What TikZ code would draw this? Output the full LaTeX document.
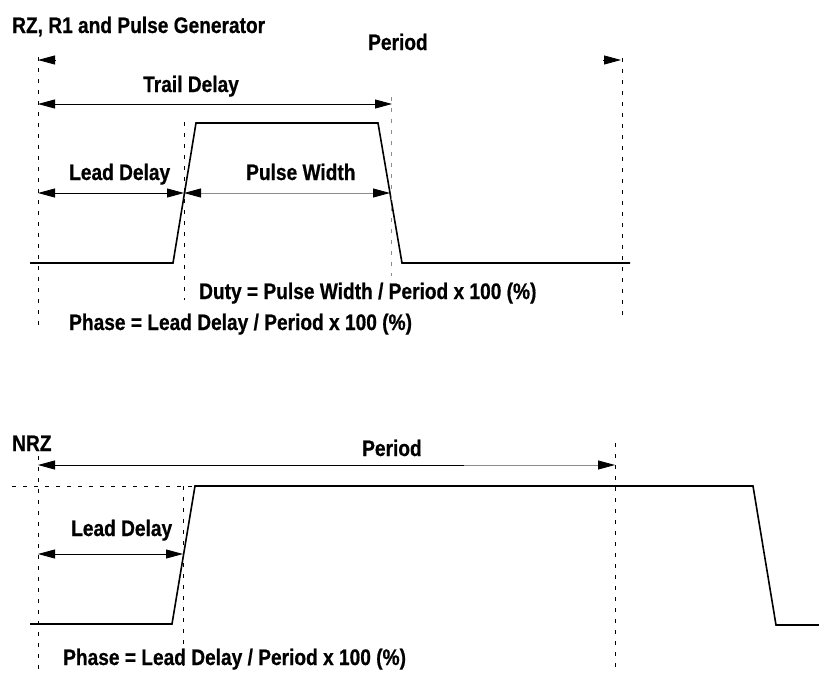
\documentclass[tikz,border=0pt]{standalone}
\usepackage{fontspec}
\setmainfont{Liberation Sans}[FakeStretch=0.85, BoldFeatures={FakeBold=0.6}]
\usetikzlibrary{arrows.meta}
\definecolor{lgray}{RGB}{140,140,140}
\begin{document}
\begin{tikzpicture}[x=1pt,y=-1pt,
  sig/.style={line width=1.6pt, line join=miter},
  dsh/.style={line width=0.9pt, dash pattern=on 4pt off 7pt},
  lbl/.style={anchor=base west, inner sep=0pt, font=\fontsize{22.5}{26}\selectfont\bfseries},
  dim/.style={line width=0.8pt, {Triangle[length=17pt,width=9pt,color=black]}-{Triangle[length=17pt,width=9pt,color=black]}},
  ltip/.style={line width=0.8pt, {Triangle[length=17pt,width=9pt,color=black]}-},
  rtip/.style={line width=0.8pt, -{Triangle[length=17pt,width=9pt,color=black]}}
]
\useasboundingbox (0,0) rectangle (819,675);
\fill[white] (0,0) rectangle (819,675);

% ---------- top diagram ----------
\node[lbl] (title) at (12,33) {RZ, R1 and Pulse Generator};
\node[lbl] (period1) at (368,50) {Period};
\node[lbl] (trail) at (143,92) {Trail Delay};
\node[lbl] (lead1) at (69,180) {Lead Delay};
\node[lbl] (pw) at (246,180) {Pulse Width};
\node[lbl] (duty) at (199,299) {Duty = Pulse Width / Period x 100 (\%)};
\node[lbl] (phase1) at (69,330) {Phase = Lead Delay / Period x 100 (\%)};

\coordinate (t0) at (30,263);
\coordinate (t1) at (173,263);
\coordinate (t2) at (196,123);
\coordinate (t3) at (378,123);
\coordinate (t4) at (402,263);
\coordinate (t5) at (630,263);
\draw[sig] (t0) -- (t1) -- (t2) -- (t3) -- (t4) -- (t5);

\coordinate (va1) at (38,57);   \coordinate (vb1) at (38,326);
\coordinate (va2) at (184,122); \coordinate (vb2) at (184,300);
\coordinate (va3) at (391,97);  \coordinate (vb3) at (391,276);
\coordinate (va4) at (622,58);  \coordinate (vb4) at (622,320);
\draw[dsh] (va1) -- (vb1);
\draw[dsh] (va2) -- (vb2);
\draw[dsh, lgray] (va3) -- (vb3);
\draw[dsh] (va4) -- (vb4);

\coordinate (pl) at (38,60);  \coordinate (plb) at (56,60);
\coordinate (prb) at (603,60); \coordinate (pr) at (621,60);
\draw[ltip] (pl) -- (plb);
\draw[rtip] (prb) -- (pr);

\coordinate (td1) at (38,104); \coordinate (td2) at (392,104);
\draw[dim] (td1) -- (td2);
\coordinate (ld1) at (38,193); \coordinate (ld2) at (184,193);
\draw[dim] (ld1) -- (ld2);
\coordinate (pw2) at (390,193);
\draw[dim, lgray] (ld2) -- (pw2);

% ---------- bottom diagram ----------
\node[lbl] (nrz) at (12,451) {NRZ};
\node[lbl] (period2) at (362,456) {Period};
\node[lbl] (lead2) at (71,536) {Lead Delay};
\node[lbl] (phase2) at (63,665) {Phase = Lead Delay / Period x 100 (\%)};

\coordinate (h1) at (12,486); \coordinate (h2) at (196,486);
\draw[dsh] (h1) -- (h2);
\coordinate (wa1) at (38,456);  \coordinate (wb1) at (38,675);
\coordinate (wa2) at (183,486); \coordinate (wb2) at (183,670);
\coordinate (wa3) at (615,443); \coordinate (wb3) at (615,672);
\draw[dsh] (wa1) -- (wb1);
\draw[dsh] (wa2) -- (wb2);
\draw[dsh] (wa3) -- (wb3);

\coordinate (s0) at (30,624);
\coordinate (s1) at (172,624);
\coordinate (s2) at (195,486);
\coordinate (s3) at (753,486);
\coordinate (s4) at (776,625);
\coordinate (s5) at (819,625);
\draw[sig] (s0) -- (s1) -- (s2) -- (s3) -- (s4) -- (s5);

\coordinate (pa) at (38,465); \coordinate (pm) at (464,465); \coordinate (pb) at (615,465);
\draw[ltip] (pa) -- (pm);
\draw[rtip, lgray] (pm) -- (pb);

\coordinate (lb1) at (38,554); \coordinate (lb2) at (183,554);
\draw[dim] (lb1) -- (lb2);
\end{tikzpicture}
\end{document}
